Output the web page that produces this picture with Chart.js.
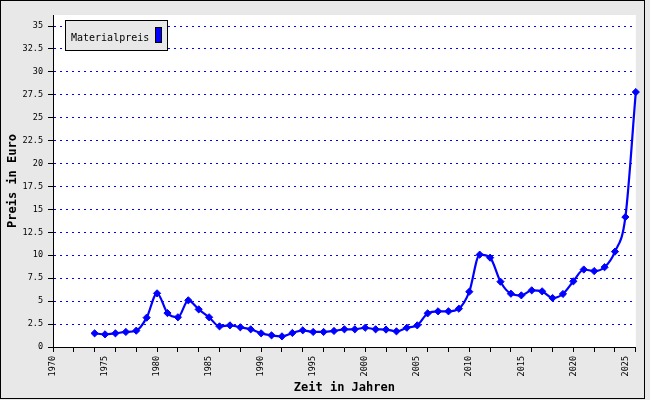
<!DOCTYPE html>
<html><head><meta charset="utf-8">
<script src="https://cdn.jsdelivr.net/npm/chart.js@4"></script>
<style>html,body{margin:0;padding:0;background:#e8e8e8;overflow:hidden;}#wrap{width:650px;height:400px;}</style>
</head><body><div id="wrap"><canvas id="c" width="650" height="400"></canvas></div>
<script>
const seriesName = 'Materialpreis';
const yAxisTitle = 'Preis in Euro';
const xAxisTitle = 'Zeit in Jahren';
const years = [1974,1975,1976,1977,1978,1979,1980,1981,1982,1983,1984,1985,1986,1987,1988,1989,1990,1991,1992,1993,1994,1995,1996,1997,1998,1999,2000,2001,2002,2003,2004,2005,2006,2007,2008,2009,2010,2011,2012,2013,2014,2015,2016,2017,2018,2019,2020,2021,2022,2023,2024,2025,2026];
const prices = [1.49,1.38,1.49,1.64,1.78,3.2,5.85,3.7,3.24,5.09,4.1,3.24,2.25,2.36,2.15,1.93,1.49,1.27,1.16,1.53,1.82,1.64,1.64,1.75,1.93,1.93,2.1,1.93,1.9,1.71,2.1,2.36,3.67,3.89,3.89,4.18,6.03,10.07,9.74,7.12,5.81,5.63,6.18,6.07,5.34,5.78,7.16,8.45,8.28,8.7,10.4,14.17,27.8];
const yTickValues = [0,2.5,5,7.5,10,12.5,15,17.5,20,22.5,25,27.5,30,32.5,35];
const xLabelYears = [1970,1975,1980,1985,1990,1995,2000,2005,2010,2015,2020,2025];
const xMarkYears = [1970,1972,1974,1976,1978,1980,1982,1984,1986,1988,1990,1992,1994,1996,1998,2000,2002,2004,2006,2008,2010,2012,2014,2016,2018,2020,2022,2024,2026];
const allXTicks = Array.from(new Set(xMarkYears.concat(xLabelYears))).sort((a,b)=>a-b);

const MONO = 'DejaVu Sans Mono';

const framePlugin = {
  id: 'frame',
  beforeDraw(chart) {
    const {ctx, chartArea: a} = chart;
    ctx.save();
    ctx.fillStyle = '#e8e8e8';
    ctx.fillRect(0, 0, chart.width, chart.height);
    ctx.strokeStyle = '#000';
    ctx.lineWidth = 1;
    ctx.strokeRect(0.5, 0.5, 644, 398);
    ctx.fillStyle = '#ffffff';
    ctx.fillRect(a.left, a.top, a.right - a.left, a.bottom - a.top);
    ctx.restore();
  },
  afterDatasetsDraw(chart) {
    const ctx = chart.ctx;
    const ds = chart.data.datasets[0];
    ctx.save();
    ctx.fillStyle = '#e8e8e8';
    ctx.fillRect(65.5, 20.5, 102, 30);
    ctx.strokeStyle = '#000';
    ctx.lineWidth = 1;
    ctx.strokeRect(65.5, 20.5, 102, 30);
    ctx.fillStyle = '#000';
    ctx.font = '10px "' + MONO + '"';
    ctx.textBaseline = 'alphabetic';
    ctx.textAlign = 'left';
    ctx.fillText(ds.label, 71, 40.5);
    ctx.fillStyle = ds.borderColor;
    ctx.fillRect(155.5, 27.5, 6, 15);
    ctx.strokeRect(155.5, 27.5, 6, 15);
    ctx.restore();
  }
};

new Chart(document.getElementById('c').getContext('2d'), {
  type: 'line',
  data: {
    datasets: [{
      label: seriesName,
      data: years.map((x, i) => ({x: x, y: prices[i]})),
      borderColor: '#0000ff',
      backgroundColor: '#0000ff',
      borderWidth: 2.2,
      pointStyle: 'rectRot',
      pointRadius: 3.6,
      pointBackgroundColor: '#0000ff',
      pointBorderColor: '#0000ff',
      pointBorderWidth: 1,
      cubicInterpolationMode: 'monotone',
      fill: false,
      clip: false
    }]
  },
  options: {
    responsive: false,
    animation: false,
    devicePixelRatio: 1,
    layout: {padding: {left: 0, top: 15, right: 14, bottom: 0}},
    plugins: {legend: {display: false}, tooltip: {enabled: false}},
    scales: {
      x: {
        type: 'linear',
        min: 1970,
        max: 2026,
        afterFit(s) { s.height = 53; },
        afterBuildTicks(s) { s.ticks = allXTicks.map(v => ({value: v})); },
        ticks: {
          autoSkip: false, minRotation: 90, maxRotation: 90, padding: 4,
          font: {family: MONO, size: 8.5}, color: '#000',
          callback: (v) => xLabelYears.includes(v) ? String(v) : ''
        },
        grid: {
          drawOnChartArea: false, drawTicks: true, tickLength: 5, tickWidth: 1,
          tickColor: (c) => (c.tick && xMarkYears.includes(c.tick.value)) ? '#000' : 'rgba(0,0,0,0)'
        },
        border: {display: true, color: '#000', width: 1},
        title: {display: true, text: xAxisTitle, color: '#000',
          font: {family: MONO, size: 12, weight: 'bold'}, padding: {top: 0, bottom: 5}}
      },
      y: {
        min: 0,
        max: 36.2,
        afterFit(s) { s.width = 53; },
        afterBuildTicks(s) { s.ticks = yTickValues.map(v => ({value: v})); },
        ticks: {
          autoSkip: false, padding: 5, font: {family: MONO, size: 8.5}, color: '#000',
          callback: (v) => String(v)
        },
        grid: {
          color: (c) => (c.tick && c.tick.value === 0) ? 'rgba(0,0,0,0)' : '#0000ff',
          lineWidth: 1, tickColor: '#000', tickLength: 5, tickWidth: 1
        },
        border: {display: true, color: '#000', width: 1, dash: [2, 4]},
        title: {display: true, text: yAxisTitle, color: '#000',
          font: {family: MONO, size: 12, weight: 'bold'}, padding: {top: 5.5, bottom: 0}}
      }
    }
  },
  plugins: [framePlugin]
});
</script>
</body></html>
